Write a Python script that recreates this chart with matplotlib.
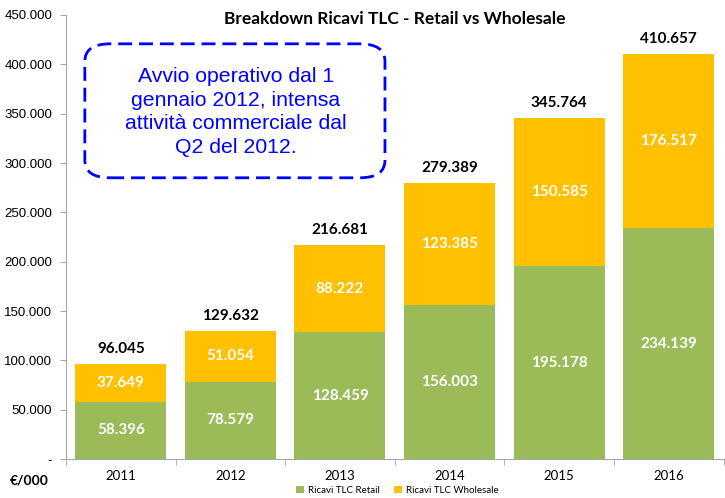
import matplotlib.pyplot as plt
from matplotlib.patches import FancyBboxPatch
from matplotlib.ticker import FuncFormatter
import numpy as np

years = ["2011", "2012", "2013", "2014", "2015", "2016"]
retail = [58396, 78579, 128459, 156003, 195178, 234139]
wholesale = [37649, 51054, 88222, 123385, 150585, 176517]
totals = [96045, 129632, 216681, 279389, 345764, 410657]

GREEN = "#9BBB59"
GOLD = "#FFC000"
AXIS_GREY = "#A6A6A6"


def fmtThousands(v):
    if v == 0:
        return "-"
    return f"{int(v):,}".replace(",", ".")


fig = plt.figure(figsize=(7.25, 4.98), dpi=100)
ax = fig.add_axes([0.091, 0.078, 0.907, 0.892])

xs = np.arange(len(years))
width = 0.83
ax.bar(xs, retail, width, color=GREEN, label="Ricavi TLC Retail")
ax.bar(xs, wholesale, width, bottom=retail, color=GOLD, label="Ricavi TLC Wholesale")

for x, r, w, t in zip(xs, retail, wholesale, totals):
    ax.text(x, r / 2, fmtThousands(r), ha="center", va="center", color="white",
            fontsize=11, fontweight="bold", family="Lato")
    ax.text(x, r + w / 2, fmtThousands(w), ha="center", va="center", color="white",
            fontsize=11, fontweight="bold", family="Lato")
    ax.text(x, t + 8000, fmtThousands(t), ha="center", va="bottom", color="black",
            fontsize=11, fontweight="bold", family="Lato")

ax.set_xlim(-0.5, len(years) - 0.5)
ax.set_ylim(0, 450000)
ax.set_yticks(np.arange(0, 450001, 50000))
ax.yaxis.set_major_formatter(FuncFormatter(lambda v, p: fmtThousands(v)))
for lbl in ax.get_yticklabels():
    lbl.set_family("Liberation Sans")
    lbl.set_fontsize(9.5)

ax.set_xticks(xs)
ax.set_xticklabels(years, family="Lato", fontsize=9.5)
ax.set_xticks(np.arange(-0.5, len(years)), minor=True)
ax.tick_params(axis="x", which="major", length=0, pad=8)
ax.tick_params(axis="x", which="minor", length=4, color=AXIS_GREY)
ax.tick_params(axis="y", length=4, color=AXIS_GREY, pad=6)

for side in ["top", "right"]:
    ax.spines[side].set_visible(False)
for side in ["left", "bottom"]:
    ax.spines[side].set_color(AXIS_GREY)

fig.text(0.545, 0.962, "Breakdown Ricavi TLC - Retail vs Wholesale", ha="center", va="center",
         fontsize=12.5, fontweight="bold", family="Lato")
fig.text(0.014, 0.036, "€/000", ha="left", va="center", fontsize=10,
         fontweight="bold", family="Lato")

# dashed rounded note box
box = FancyBboxPatch((0.117, 0.643), 0.414, 0.269, transform=fig.transFigure,
                     boxstyle="round,pad=0,rounding_size=0.035", fill=False,
                     edgecolor="#0000FF", linestyle=(0, (5, 2.5)), linewidth=2)
fig.patches.append(box)
fig.text(0.325, 0.775, "Avvio operativo dal 1\ngennaio 2012, intensa\nattività commerciale dal\nQ2 del 2012.",
         ha="center", va="center", color="#0000FF", fontsize=15.3,
         family="Liberation Sans", linespacing=1.3)

fig.legend(loc="center", bbox_to_anchor=(0.548, 0.015), ncol=2, frameon=False,
           prop={"family": "Lato", "size": 7}, handlelength=0.8, handleheight=0.8,
           handletextpad=0.4, columnspacing=1.5, borderaxespad=0)

fig.savefig("out.png", dpi=100)
